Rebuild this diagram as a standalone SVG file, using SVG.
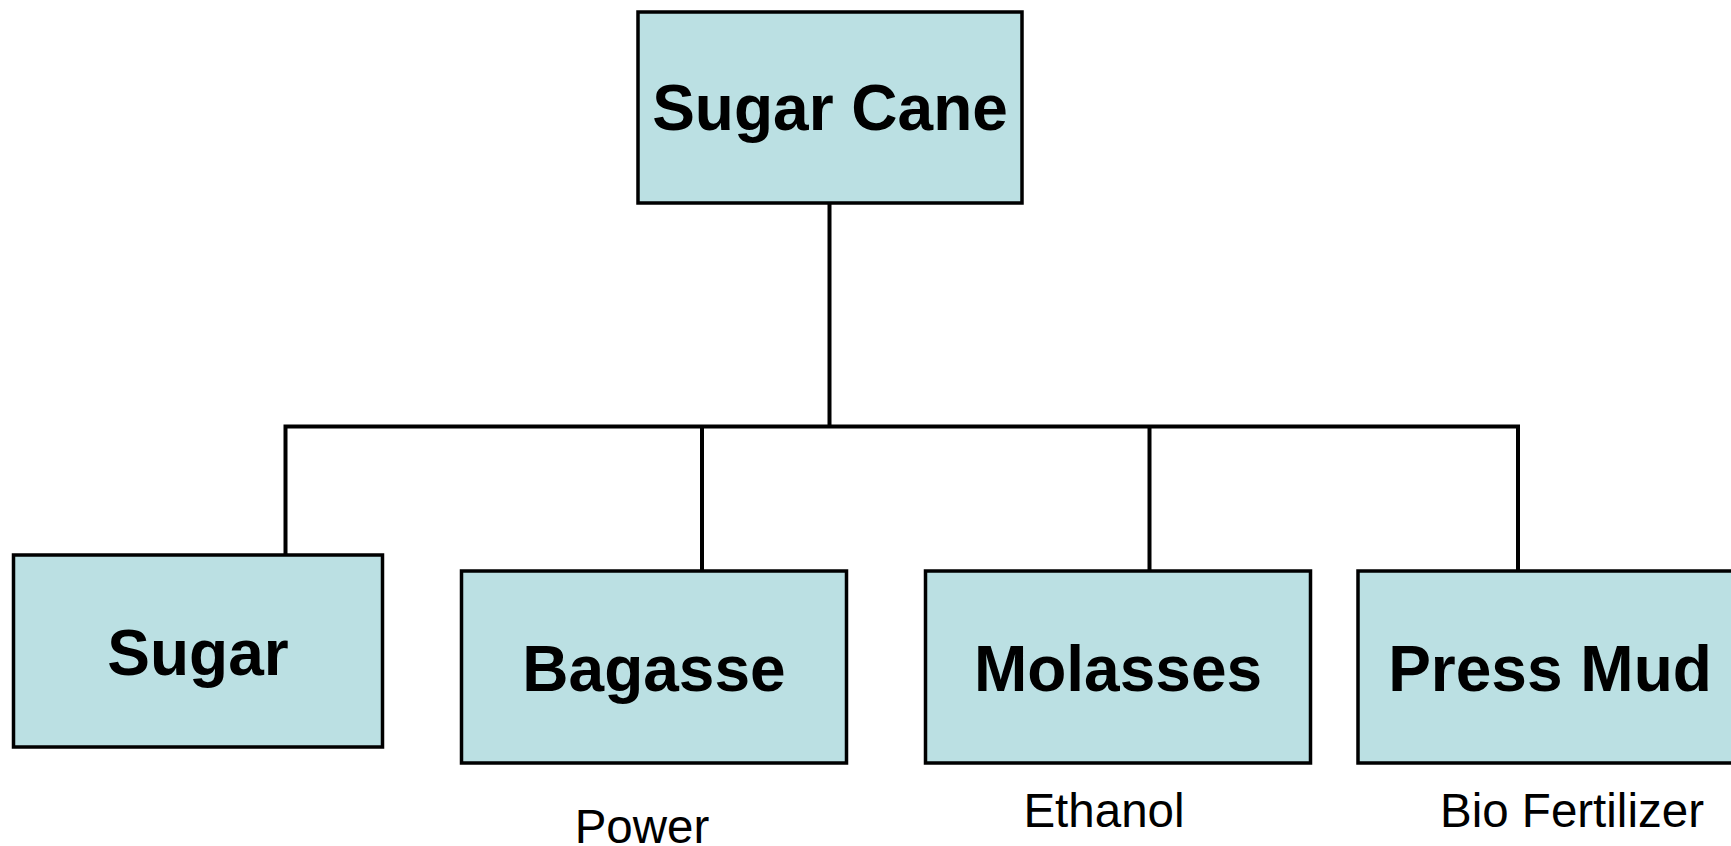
<svg xmlns="http://www.w3.org/2000/svg" width="1731" height="846" viewBox="0 0 1731 846">
<style>
.box{fill:#BBE0E3;stroke:#000;stroke-width:3.5}
.lbl{font-family:"Liberation Sans",Arial,sans-serif;font-weight:bold;font-size:64px;text-anchor:middle;fill:#000}
.sub{font-family:"Liberation Sans",Arial,sans-serif;font-size:47.5px;text-anchor:middle;fill:#000}
.conn{fill:none;stroke:#000;stroke-width:4}
</style>
<rect width="1731" height="846" fill="#fff"/>
<g id="connectors">
<path class="conn" d="M829.5 203 V426.5"/>
<path class="conn" d="M285.5 555 V426.5 H1518 V571"/>
<path class="conn" d="M702 426.5 V571"/>
<path class="conn" d="M1149.5 426.5 V571"/>
</g>
<g id="sugarcane">
<rect class="box" x="638" y="12" width="384" height="191"/>
<text class="lbl" x="830" y="130">Sugar Cane</text>
</g>
<g id="sugar">
<rect class="box" x="13.5" y="555" width="369" height="192"/>
<text class="lbl" x="198" y="675">Sugar</text>
</g>
<g id="bagasse">
<rect class="box" x="461.5" y="571" width="385" height="192"/>
<text class="lbl" x="654" y="691">Bagasse</text>
</g>
<g id="molasses">
<rect class="box" x="925.5" y="571" width="385" height="192"/>
<text class="lbl" x="1118" y="691">Molasses</text>
</g>
<g id="pressmud">
<rect class="box" x="1358" y="571" width="386" height="192"/>
<text class="lbl" x="1550" y="691">Press Mud</text>
</g>
<g id="power">
<text class="sub" x="642" y="843">Power</text>
</g>
<g id="ethanol">
<text class="sub" x="1104" y="827">Ethanol</text>
</g>
<g id="biofertilizer">
<text class="sub" x="1572" y="827">Bio Fertilizer</text>
</g>
</svg>
